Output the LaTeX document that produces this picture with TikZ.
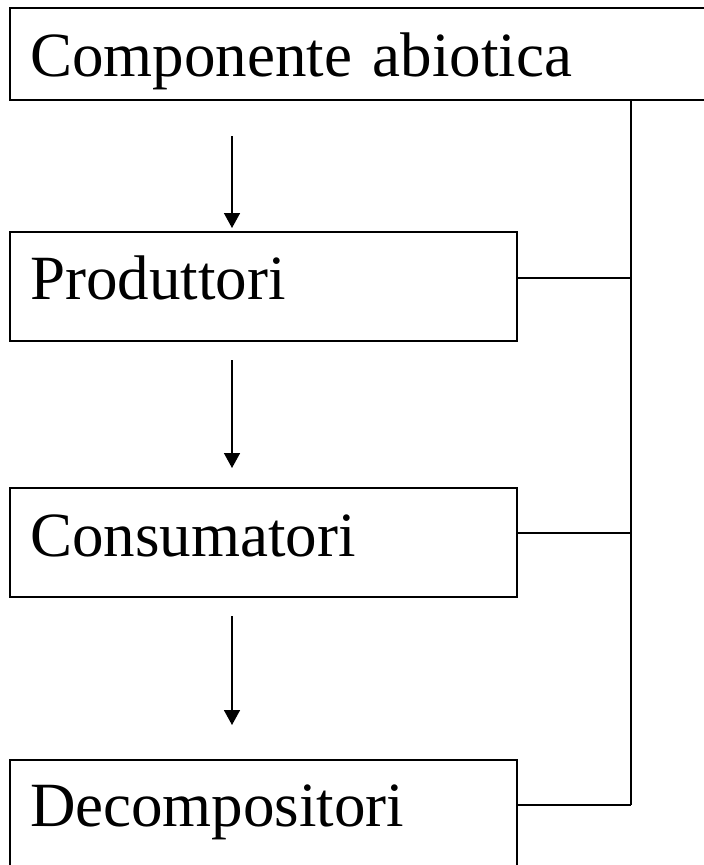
\documentclass[tikz,border=0pt]{standalone}
\usepackage{fontspec}
\setmainfont{Liberation Serif}
\usetikzlibrary{arrows.meta,positioning}

\tikzset{
  level/.style={draw, line width=2pt, anchor=north west, inner xsep=20pt, inner ysep=0pt,
    text width=#1, align=left, font=\fontsize{63}{70}\selectfont},
  level/.default=467pt,
  flow/.style={line width=1.6pt, -{Triangle[width=16pt,length=15pt]}},
  link/.style={line width=2pt}
}

\begin{document}
\begin{tikzpicture}[x=1pt,y=-1pt]
\useasboundingbox (0,0) rectangle (704,865);

% Levels
\node[level=690pt, text height=68pt, text depth=24pt] (abio) at (9,7) {Componente abiotica};
\node[level, text height=67pt, text depth=42pt] (prod) at (9,231) {Produttori};
\node[level, text height=68pt, text depth=41pt] (cons) at (9,487) {Consumatori};
\node[level, text height=66pt, text depth=44pt] (deco) at (9,759) {Decompositori};

% Chain
\draw[flow] ([xshift=223pt,yshift=-35pt]abio.south west) -- ([xshift=223pt,yshift=3pt]prod.north west);
\draw[flow] ([xshift=223pt,yshift=-18pt]prod.south west) -- ([xshift=223pt,yshift=19pt]cons.north west);
\draw[flow] ([xshift=223pt,yshift=-18pt]cons.south west) -- ([xshift=223pt,yshift=34pt]deco.north west);

% Return line
\coordinate (bus) at (631,805);
\coordinate (p1) at ([yshift=-47pt]prod.north east);
\coordinate (c1) at ([yshift=-46pt]cons.north east);
\coordinate (d1) at ([yshift=-46pt]deco.north east);
\draw[link] (abio.south -| bus) -- (bus);
\draw[link] (p1) -- (p1 -| bus);
\draw[link] (c1) -- (c1 -| bus);
\draw[link] (d1) -- (d1 -| bus);
\end{tikzpicture}
\end{document}
